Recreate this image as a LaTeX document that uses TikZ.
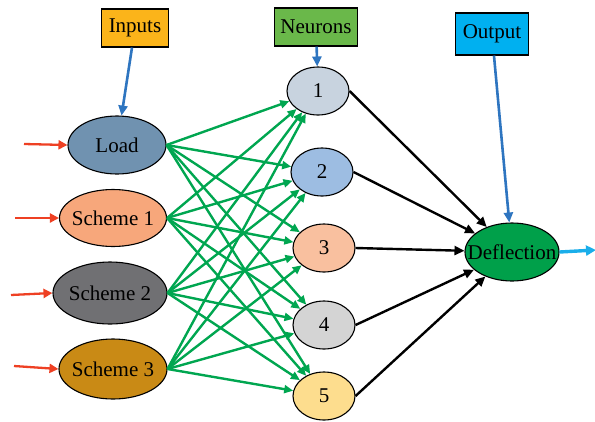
\documentclass[tikz,border=0pt]{standalone}
\usepackage{fontspec}
\setmainfont{Liberation Serif}
\usetikzlibrary{shapes.geometric,arrows.meta}
\definecolor{inputsbox}{HTML}{FBB41A}
\definecolor{neuronsbox}{HTML}{6AB84A}
\definecolor{outputbox}{HTML}{00B0F0}
\definecolor{loadfill}{HTML}{7092B0}
\definecolor{schemeone}{HTML}{F7A77B}
\definecolor{schemetwo}{HTML}{707073}
\definecolor{schemethree}{HTML}{C98A15}
\definecolor{neuronone}{HTML}{C8D3DF}
\definecolor{neurontwo}{HTML}{9DBDE2}
\definecolor{neuronthree}{HTML}{F9C09F}
\definecolor{neuronfour}{HTML}{D4D4D4}
\definecolor{neuronfive}{HTML}{FDDD8E}
\definecolor{deflfill}{HTML}{00A04A}
\definecolor{linkgreen}{HTML}{00A650}
\definecolor{feedred}{HTML}{EE4023}
\definecolor{pointblue}{HTML}{2E75C0}
\definecolor{outcyan}{HTML}{1AAEEA}

\begin{document}
\begin{tikzpicture}[x=1pt,y=-1pt]
	\tikzset{every node/.style={font=\fontsize{21}{24}\selectfont}}
	\tikzset{tag/.style={draw,line width=1.1pt,minimum height=38pt,inner sep=2pt}}
	\tikzset{unit/.style={ellipse,draw,line width=1.1pt,inner xsep=-14pt,inner ysep=0pt}}
	\tikzset{neuron/.style={unit,minimum width=62pt,minimum height=48pt}}
	\tikzset{link/.style={-{Triangle[length=9pt,width=8pt]},line width=2.4pt,color=linkgreen}}
	\tikzset{wire/.style={-{Triangle[length=10pt,width=9pt]},line width=2.4pt}}
	\tikzset{feed/.style={-{Triangle[length=9pt,width=9pt]},line width=2.3pt,color=feedred}}
	\tikzset{pointer/.style={-{Triangle[length=10pt,width=9pt]},line width=2.6pt,color=pointblue}}
	\useasboundingbox (0,0) rectangle (595,421);

	\node[tag,fill=inputsbox,minimum width=67pt] (inputs) at (135,28) {Inputs};
	\node[tag,fill=neuronsbox,minimum width=83pt] (neurons) at (316,27) {Neurons};
	\node[tag,fill=outputbox,minimum width=73pt,minimum height=42pt] (output) at (492,34) {Output};

	\node[unit,fill=loadfill,minimum width=98pt,minimum height=58pt] (load) at (117,145) {Load};
	\node[unit,fill=schemeone,minimum width=107pt,minimum height=57pt] (s1) at (113,218) {Scheme 1};
	\node[unit,fill=schemetwo,minimum width=114pt,minimum height=62pt] (s2) at (110,293) {Scheme 2};
	\node[unit,fill=schemethree,minimum width=108pt,minimum height=60pt] (s3) at (113,369) {Scheme 3};

	\node[neuron,fill=neuronone] (n1) at (318,91) {1};
	\node[neuron,fill=neurontwo] (n2) at (322,172) {2};
	\node[neuron,fill=neuronthree] (n3) at (324,248) {3};
	\node[neuron,fill=neuronfour] (n4) at (324,325) {4};
	\node[neuron,fill=neuronfive] (n5) at (324,396) {5};

	\node[unit,fill=deflfill,minimum width=94pt,minimum height=58pt] (defl) at (512,252) {Deflection};

	\coordinate (r0) at (24,144);
	\coordinate (r1) at (15,218);
	\coordinate (r2) at (11,295);
	\coordinate (r3) at (14,366);
	\coordinate (out) at (596,250);

	\draw[feed] (r0) -- (load.west);
	\draw[feed] (r1) -- (s1.west);
	\draw[feed] (r2) -- (s2.west);
	\draw[feed] (r3) -- (s3.west);

	\foreach \i in {load,s1,s2,s3}
		\foreach \j in {1,...,5}
			\draw[link] (\i.east) -- (n\j);

	\foreach \j in {1,...,5}
		\draw[wire] (n\j.east) -- (defl);

	\draw[pointer] (inputs) -- (load);
	\draw[pointer] (neurons) -- (n1);
	\draw[pointer] (output) -- (defl);
	\draw[-{Triangle[length=10pt,width=10pt]},line width=3.4pt,color=outcyan] (defl.east) -- (out);
\end{tikzpicture}
\end{document}
